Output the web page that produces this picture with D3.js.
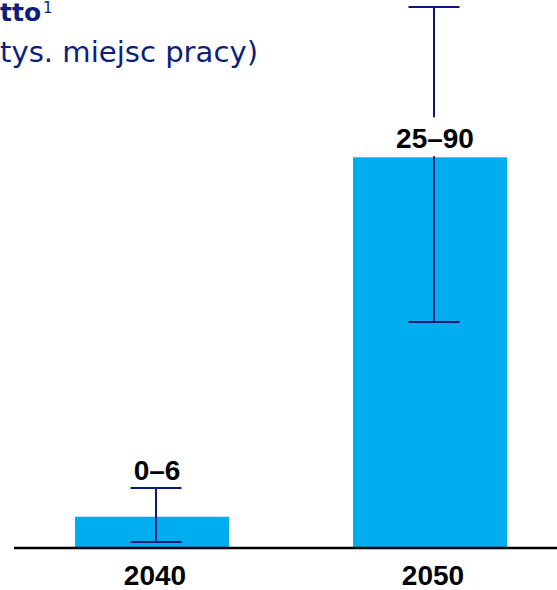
<!DOCTYPE html>
<html lang="pl">
  <head>
    <meta charset="utf-8">
    <title>Zatrudnienie netto</title>
    <script type="text/javascript" src="https://cdn.jsdelivr.net/npm/d3@7"></script>
    <style>
      body { margin: 0; background: #fff; }
      .title { font-family: "DejaVu Sans", sans-serif; fill: #0d1f7a; }
      .lbl { font-family: "Liberation Sans", Arial, sans-serif; font-weight: bold; font-size: 28px; fill: #000; }
    </style>
  </head>
  <body>
    <script type="text/javascript">

    //Data
    var years = ["2040", "2050"];
    var barValues = [5.2, 65];          //bar heights (tys. miejsc pracy)
    var errLow = [1, 37.6];             //lower whisker
    var errHigh = [10, 90];             //upper whisker
    var rangeLabels = ["0–6", "25–90"];

    //Width and height
    var w = 557;
    var h = 590;
    var baseY = 548;

    var svg = d3.select("body")
          .append("svg")
          .attr("width", w)
          .attr("height", h);

    //Scales
    var xScale = d3.scaleBand()
          .domain(years)
          .range([13, 569])
          .paddingInner(0.446)
          .paddingOuter(0.223);

    var yScale = d3.scaleLinear()
          .domain([0, 90])
          .range([baseY, 7]);

    var errOffset = 4;
    function cx(i) { return xScale(years[i]) + xScale.bandwidth() / 2 + errOffset; }

    //Title (cut off on the left in the source)
    svg.append("text")
          .attr("class", "title")
          .attr("x", 0)
          .attr("y", 21)
          .style("font-size", "25px")
          .style("font-weight", "bold")
          .text("tto");
    svg.append("text")
          .attr("class", "title")
          .attr("x", 43)
          .attr("y", 13)
          .style("font-size", "15px")
          .text("1");
    svg.append("text")
          .attr("class", "title")
          .attr("x", 0)
          .attr("y", 62)
          .style("font-size", "28px")
          .attr("textLength", 258)
          .attr("lengthAdjust", "spacingAndGlyphs")
          .text("tys. miejsc pracy)");

    //Bars
    svg.selectAll("rect.bar")
       .data(barValues)
       .enter()
       .append("rect")
       .attr("class", "bar")
       .attr("x", function(d, i) { return xScale(years[i]); })
       .attr("y", function(d) { return yScale(d); })
       .attr("width", xScale.bandwidth())
       .attr("height", function(d) { return baseY - yScale(d); })
       .attr("fill", "#00aeef");

    //Error bars
    var err = svg.selectAll("g.err")
       .data(years)
       .enter()
       .append("g")
       .attr("class", "err")
       .attr("stroke", "#0a1a78")
       .attr("stroke-width", 2);

    err.append("line")
       .attr("x1", function(d, i) { return cx(i); })
       .attr("x2", function(d, i) { return cx(i); })
       .attr("y1", function(d, i) { return yScale(errLow[i]); })
       .attr("y2", function(d, i) { return yScale(errHigh[i]); });

    err.each(function(d, i) {
      var g = d3.select(this);
      [errLow[i], errHigh[i]].forEach(function(v) {
        g.append("line")
         .attr("x1", cx(i) - 25.5)
         .attr("x2", cx(i) + 25.5)
         .attr("y1", yScale(v))
         .attr("y2", yScale(v));
      });
    });

    //Range labels: just above the bar when the whisker runs far past it
    //(the whisker gets a white gap), otherwise above the whisker cap
    var throughBar = barValues.map(function(v, i) {
      return yScale(errHigh[i]) < yScale(v) - 50;
    });
    var labelY = barValues.map(function(v, i) {
      return throughBar[i] ? yScale(v) - 9 : yScale(errHigh[i]) - 8;
    });

    svg.selectAll("rect.gap")
       .data(years.filter(function(d, i) { return throughBar[i]; }))
       .enter()
       .append("rect")
       .attr("class", "gap")
       .attr("x", function(d) { return cx(years.indexOf(d)) - 3; })
       .attr("y", function(d) { return labelY[years.indexOf(d)] - 31; })
       .attr("width", 6)
       .attr("height", function(d) {
         var i = years.indexOf(d);
         return yScale(barValues[i]) - (labelY[i] - 31) - 1;
       })
       .attr("fill", "#fff");

    svg.selectAll("text.range")
       .data(rangeLabels)
       .enter()
       .append("text")
       .attr("class", "lbl range")
       .attr("text-anchor", "middle")
       .attr("x", function(d, i) { return cx(i) + 1; })
       .attr("y", function(d, i) { return labelY[i]; })
       .text(function(d) { return d; });

    //Baseline
    svg.append("line")
       .attr("x1", 14)
       .attr("x2", w)
       .attr("y1", baseY)
       .attr("y2", baseY)
       .attr("stroke", "#000")
       .attr("stroke-width", 2.5);

    //Category labels
    svg.selectAll("text.year")
       .data(years)
       .enter()
       .append("text")
       .attr("class", "lbl year")
       .attr("text-anchor", "middle")
       .attr("x", function(d, i) { return cx(i) - 1; })
       .attr("y", 585)
       .text(function(d) { return d; });

    </script>
  </body>
</html>
